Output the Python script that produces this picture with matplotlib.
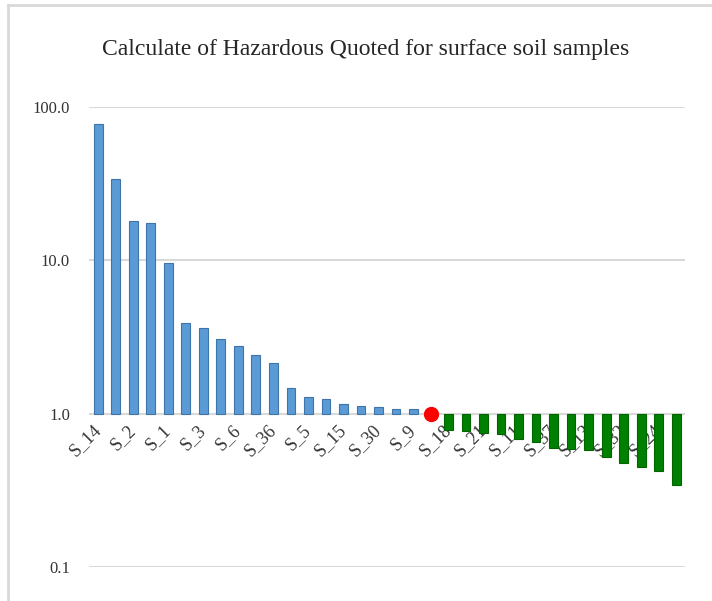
import matplotlib.pyplot as plt
from matplotlib.lines import Line2D
from matplotlib.ticker import FixedLocator, FixedFormatter

# hazard quotient per sample, sorted high to low
samples = ["S_14", "", "S_2", "", "S_1", "", "S_3", "", "S_6", "", "S_36", "",
           "S_5", "", "S_15", "", "S_30", "", "S_9", "", "S_18", "", "S_21", "",
           "S_11", "", "S_37", "", "S_13", "", "S_32", "", "S_24", ""]
above = [78.0, 34.0, 18.0, 17.6, 9.6, 3.9, 3.6, 3.06, 2.75, 2.4, 2.13,
         1.48, 1.29, 1.25, 1.15, 1.13, 1.11, 1.08, 1.07]
at_one = [1.0]
below = [0.78, 0.77, 0.75, 0.74, 0.68, 0.65, 0.60, 0.59, 0.58, 0.52,
         0.48, 0.45, 0.42, 0.34]

plt.rcParams['font.family'] = ['Liberation Serif', 'DejaVu Serif']

fig = plt.figure(figsize=(7.12, 6.01), dpi=100)
ax = fig.add_axes([0.1257, 0.0566, 0.8363, 0.7654])

n1 = len(above)
x_above = list(range(n1))
x_one = [n1]
x_below = list(range(n1 + 1, n1 + 1 + len(below)))

ax.bar(x_above, [v - 1 for v in above], bottom=1, width=0.5,
       color="#5B9BD5", edgecolor="#3F74A8", linewidth=0.8, zorder=3)
ax.bar(x_below, [v - 1 for v in below], bottom=1, width=0.5,
       color="#008000", edgecolor="#006400", linewidth=0.8, zorder=3)
ax.plot(x_one, at_one, marker="o", linestyle="none", color="#FF0000",
        markersize=10, zorder=4)

ax.set_yscale("log")
ax.set_ylim(0.1, 100)
ax.set_xlim(-0.5, len(samples) - 0.5)
ax.yaxis.set_major_locator(FixedLocator([0.1, 1, 10, 100]))
ax.yaxis.set_major_formatter(FixedFormatter(["0.1", "1.0", "10.0", "100.0"]))
ax.yaxis.set_minor_locator(FixedLocator([]))
ax.grid(axis="y", color="#D9D9D9", linewidth=1.5, zorder=0)
ax.tick_params(axis="y", length=0, pad=14, labelsize=12, labelcolor="#333333")

# x axis sits on the 1.0 line
ax.spines["bottom"].set_position(("data", 1))
for s in ax.spines.values():
    s.set_visible(False)
ax.set_xticks(range(len(samples)))
ax.set_xticklabels(samples, rotation=45, ha="right", va="center",
                   rotation_mode="anchor", fontsize=13, color="#333333")
ax.tick_params(axis="x", length=0, pad=10)

fig.suptitle("Calculate of Hazardous Quoted for surface soil samples",
             x=0.513, y=0.935, fontsize=17, color="#262626")

# chart frame
fig.add_artist(Line2D([8 / 712, 1], [1 - 5 / 601, 1 - 5 / 601],
                      color="#D9D9D9", linewidth=2))
fig.add_artist(Line2D([8 / 712, 8 / 712], [0, 1 - 5 / 601],
                      color="#D9D9D9", linewidth=2))

fig.savefig("out.png", dpi=100)
